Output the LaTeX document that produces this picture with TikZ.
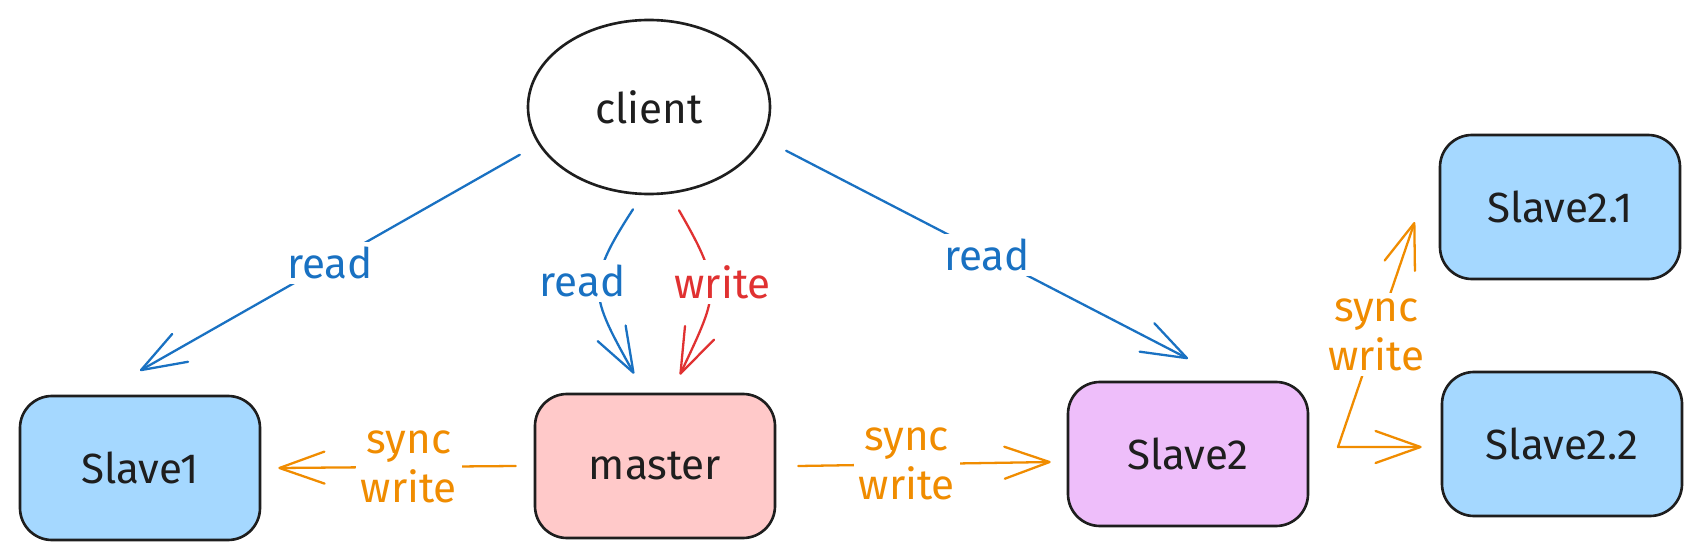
\documentclass[tikz,border=0pt]{standalone}
\usepackage{fontspec}
\setmainfont{Fira Sans}
\usetikzlibrary{shapes.geometric,arrows.meta}
\definecolor{ink}{HTML}{1E1E1E}
\definecolor{readblue}{HTML}{1971C2}
\definecolor{writered}{HTML}{E03131}
\definecolor{syncorange}{HTML}{F08C00}
\definecolor{slavefill}{HTML}{A5D8FF}
\definecolor{masterfill}{HTML}{FFC9C9}
\definecolor{midfill}{HTML}{EEBEFA}
\begin{document}
\begin{tikzpicture}[x=0.2mm,y=-0.2mm,
        font=\fontsize{24}{28}\selectfont,
        >={Straight Barb[length=9mm,width=6.4mm,round]},
        server/.style={draw=ink,line width=1.5pt,rounded corners=6.4mm,minimum width=48mm,minimum height=28.8mm,text=ink},
        clientnode/.style={ellipse,draw=ink,line width=1.5pt,minimum width=48.4mm,minimum height=34.8mm,inner sep=0pt,text=ink},
        lbl/.style={fill=white,inner sep=1mm,align=center},
        conn/.style={->,line width=1.3pt,line cap=round,line join=round},
        readline/.style={conn,readblue},
        writeline/.style={conn,writered},
        syncline/.style={conn,syncorange}]
    \path[fill=white,use as bounding box] (0,0) rectangle (1702,555);
    \node[clientnode] (client) at (649,107) {client};
    \node[server,fill=slavefill] (slave1) at (140,468) {Slave1};
    \node[server,fill=masterfill] (master) at (655,466) {master};
    \node[server,fill=midfill] (slave2) at (1188,454) {Slave2};
    \node[server,fill=slavefill] (slave21) at (1560,207) {Slave2.1};
    \node[server,fill=slavefill] (slave22) at (1562,444) {Slave2.2};
    \coordinate (fork) at (1338,447);
    \draw[readline] ([xshift=-4mm,yshift=-1.6mm]client.200) -- node[lbl]{read} ([yshift=4.8mm]slave1.north);
    \draw[readline] ([xshift=-3.2mm,yshift=-2.8mm]client.south) to[out=237,in=119,looseness=1.4] node[lbl,xshift=-3.2mm,yshift=1.8mm]{read} ([xshift=-4.2mm,yshift=3.8mm]master.north);
    \draw[writeline] ([xshift=6mm,yshift=-3mm]client.south) to[out=300,in=65,looseness=1.4] node[lbl,xshift=2.4mm,yshift=1.8mm]{write} ([xshift=5mm,yshift=3.6mm]master.north);
    \draw[readline] ([xshift=5.6mm,yshift=-0.8mm]client.340) -- node[lbl]{read} ([yshift=4.4mm]slave2.north);
    \draw[syncline] ([xshift=-3.6mm]master.west) -- node[lbl,pos=0.45]{sync\\write} ([xshift=3.4mm]slave1.east);
    \draw[syncline] ([xshift=4.4mm]master.east) -- node[lbl,pos=0.43]{sync\\write} ([xshift=-3.2mm,yshift=-1.6mm]slave2.west);
    \draw[syncline,<->] ([xshift=-4.8mm,yshift=-3mm]slave21.west) -- node[lbl]{sync\\write} (fork) -- ([xshift=-3.8mm,yshift=-0.6mm]slave22.west);
\end{tikzpicture}
\end{document}
